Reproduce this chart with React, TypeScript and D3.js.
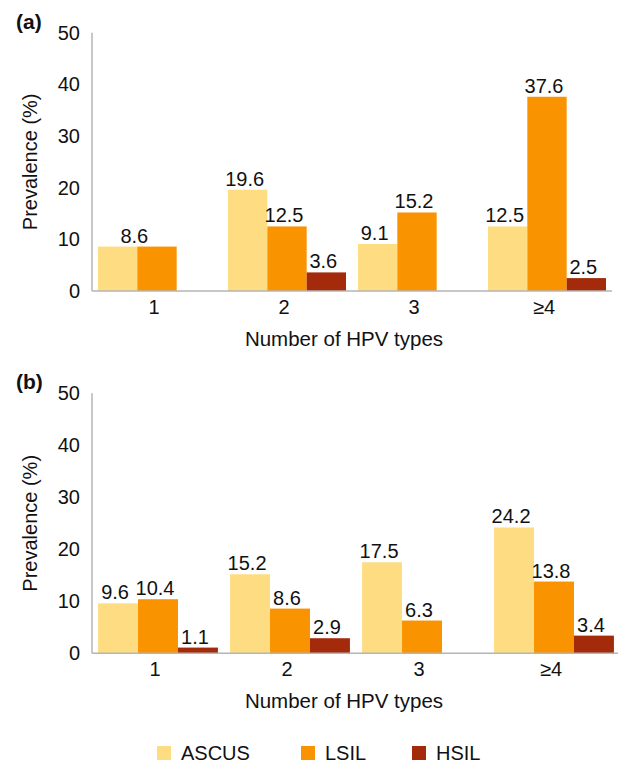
import React from "react";
import * as d3 from "d3";

// Categories and series
const categories = ["1", "2", "3", "≥4"];
const seriesNames = ["ASCUS", "LSIL", "HSIL"];
const yTicks = [0, 10, 20, 30, 40, 50];

// Panel (a) prevalence values (%)
const ascusA = [8.6, 19.6, 9.1, 12.5];
const lsilA = [8.6, 12.5, 15.2, 37.6];
const hsilA = [0, 3.6, 0, 2.5];

// Panel (b) prevalence values (%)
const ascusB = [9.6, 15.2, 17.5, 24.2];
const lsilB = [10.4, 8.6, 6.3, 13.8];
const hsilB = [1.1, 2.9, 0, 3.4];

const COLORS: Record<string, string> = {
  ASCUS: "#FEDC82",
  LSIL: "#FA9300",
  HSIL: "#A32B0B",
};
const AXIS = "#B5B5B5";
const FONT = "'Liberation Sans', Arial, Helvetica, sans-serif";

type PanelProps = {
  tag: string;
  series: number[][];
  top: number;
  bottom: number;
  left: number;
  right: number;
};

function Panel({ tag, series, top, bottom, left, right }: PanelProps) {
  const y = d3.scaleLinear().domain([0, 50]).range([bottom, top]);
  const x = d3.scaleBand<string>().domain(categories).range([left, right]);
  const band = x.bandwidth();
  const groupW = band * 0.908;
  const inner = d3
    .scaleBand<string>()
    .domain(seriesNames)
    .range([(band - groupW) / 2, (band + groupW) / 2]);
  const bw = inner.bandwidth();

  const bars: React.ReactNode[] = [];
  const labels: React.ReactNode[] = [];
  categories.forEach((cat, ci) => {
    const x0 = x(cat)!;
    let si = 0;
    while (si < seriesNames.length) {
      const name = seriesNames[si];
      const v = series[si][ci];
      if (v > 0) {
        bars.push(
          <rect
            key={`b-${cat}-${name}`}
            x={x0 + inner(name)!}
            y={y(v)}
            width={bw}
            height={y(0) - y(v)}
            fill={COLORS[name]}
          />
        );
      }
      // neighbouring bars of equal height share a single value label
      let span = 1;
      while (
        si + span < seriesNames.length &&
        series[si + span][ci] === v
      ) {
        const nm = seriesNames[si + span];
        bars.push(
          <rect
            key={`b-${cat}-${nm}`}
            x={x0 + inner(nm)!}
            y={y(v)}
            width={bw}
            height={y(0) - y(v)}
            fill={COLORS[nm]}
          />
        );
        span++;
      }
      if (v > 0) {
        const cx = x0 + inner(name)! + (bw * span) / 2 - 3;
        labels.push(
          <text
            key={`l-${cat}-${name}`}
            x={cx}
            y={y(v) - 4}
            textAnchor="middle"
            fontSize={20}
            fill="#111"
          >
            {v.toFixed(1)}
          </text>
        );
      }
      si += span;
    }
  });

  return (
    <g fontFamily={FONT}>
      <text x={16} y={top - 4} fontSize={21} fontWeight="bold" fill="#111">
        {tag}
      </text>
      {yTicks.map((t) => (
        <text
          key={t}
          x={left - 12}
          y={y(t)}
          textAnchor="end"
          dominantBaseline="central"
          fontSize={20}
          fill="#111"
        >
          {t}
        </text>
      ))}
      <text
        transform={`translate(37,${(top + bottom) / 2}) rotate(-90)`}
        textAnchor="middle"
        fontSize={20}
        fill="#111"
      >
        Prevalence (%)
      </text>
      {bars}
      <line x1={left} x2={left} y1={top} y2={bottom} stroke={AXIS} strokeWidth={1.5} />
      <line x1={left} x2={right} y1={bottom} y2={bottom} stroke={AXIS} strokeWidth={1.5} />
      {labels}
      {categories.map((c) => (
        <text
          key={c}
          x={x(c)! + band / 2 - 3}
          y={bottom + 23}
          textAnchor="middle"
          fontSize={20}
          fill="#111"
        >
          {c}
        </text>
      ))}
      <text x={344} y={bottom + 55} textAnchor="middle" fontSize={20.5} fill="#111">
        Number of HPV types
      </text>
    </g>
  );
}

const legendX = [157, 301, 412];

export default function App() {
  return (
    <svg
      width={618}
      height={763}
      style={{ position: "absolute", left: 0, top: 0, background: "#fff" }}
    >
      <rect width={618} height={763} fill="#fff" />
      <Panel
        tag="(a)"
        series={[ascusA, lsilA, hsilA]}
        top={32.7}
        bottom={291}
        left={92}
        right={612}
      />
      <Panel
        tag="(b)"
        series={[ascusB, lsilB, hsilB]}
        top={393.3}
        bottom={653.3}
        left={92}
        right={620}
      />
      <g fontFamily={FONT}>
        {seriesNames.map((s, i) => (
          <g key={s}>
            <rect x={legendX[i]} y={746} width={14} height={14} fill={COLORS[s]} />
            <text x={legendX[i] + 24} y={760} fontSize={20} fill="#111">
              {s}
            </text>
          </g>
        ))}
      </g>
    </svg>
  );
}
